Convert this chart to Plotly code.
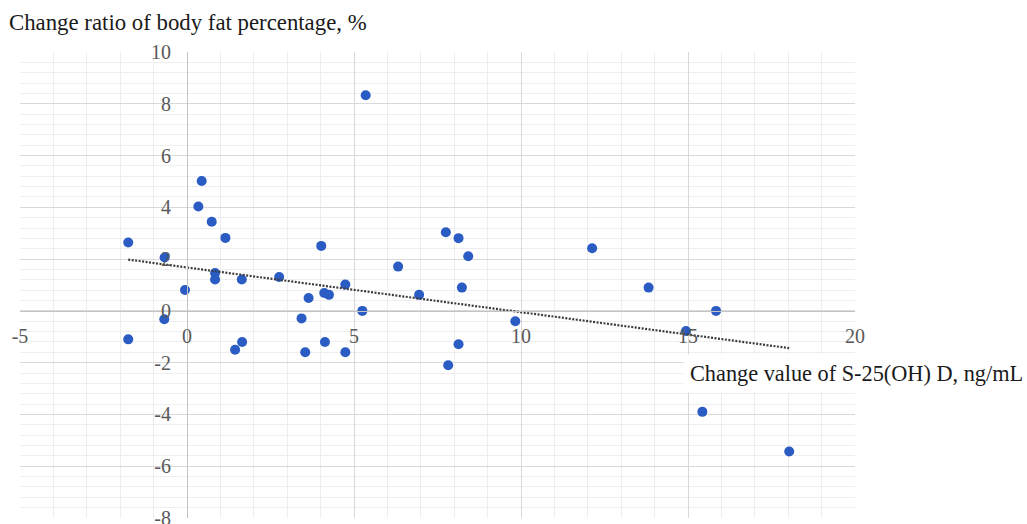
import numpy as np
import plotly.graph_objects as go

# Change value of serum 25(OH)D (ng/mL) and change ratio of body fat (%)
vitd_change = [
    -1.76, -0.67, -0.68, -1.76, -0.06, 0.44, 0.34, 0.74, 1.15, 0.84,
    0.84, 1.64, 2.76, 4.02, 3.64, 4.11, 4.25, 4.74, 5.25, 3.43,
    6.32, 1.65, 1.44, 3.54, 4.13, 4.74, 5.35, 6.95, 7.75, 8.13,
    8.42, 8.23, 9.83, 8.13, 12.13, 13.82, 15.84, 14.94, 7.82, 15.43,
    18.03,
]
fat_change = [
    2.64, 2.06, -0.32, -1.10, 0.81, 5.02, 4.03, 3.44, 2.82, 1.46,
    1.21, 1.21, 1.31, 2.51, 0.50, 0.69, 0.62, 1.02, 0.00, -0.29,
    1.71, -1.20, -1.50, -1.60, -1.20, -1.60, 8.33, 0.62, 3.04, 2.81,
    2.11, 0.90, -0.40, -1.29, 2.42, 0.90, 0.00, -0.78, -2.10, -3.90,
    -5.43,
]

x_range = [-5, 20]
y_range = [-8, 10]
x_tick_vals = [-5, 0, 5, 10, 15, 20]
x_tick_text = ["-5", "0", "5", "10", "15", "20"]
y_tick_vals = [-8, -6, -4, -2, 0, 2, 4, 6, 8, 10]
y_tick_text = ["-8", "-6", "-4", "-2", "0", "2", "4", "6", "8", "10"]

x_title = "Change value of S-25(OH) D, ng/mL"
y_title = "Change ratio of body fat percentage, %"

# Linear least-squares trendline over the span of the data
slope, intercept = np.polyfit(vitd_change, fat_change, 1)
fit_x = [min(vitd_change), max(vitd_change)]
fit_y = [intercept + slope * v for v in fit_x]

serif = "Times New Roman, Liberation Serif, serif"
W, H = 1027, 524
ml, mr, mt, mb = 20, 172, 52, 6
plot_w = W - ml - mr
plot_h = H - mt - mb

fig = go.Figure()
fig.add_trace(go.Scatter(
    x=vitd_change, y=fat_change, mode="markers",
    marker=dict(size=10, color="#2a5cc4", line=dict(width=0)),
    showlegend=False, hoverinfo="x+y",
))
fig.add_trace(go.Scatter(
    x=fit_x, y=fit_y, mode="lines",
    line=dict(color="#3c3c3c", width=2.2, dash="2px,1.5px"),
    showlegend=False, hoverinfo="skip",
))

# Axes cross at the origin
x_axis_pos = (0 - y_range[0]) / (y_range[1] - y_range[0])
y_axis_pos = (0 - x_range[0]) / (x_range[1] - x_range[0])

tick_font = dict(family=serif, size=20, color="#595959")

fig.update_layout(
    width=W, height=H,
    margin=dict(l=ml, r=mr, t=mt, b=mb, pad=0),
    paper_bgcolor="white", plot_bgcolor="white",
    xaxis=dict(
        range=x_range, tickmode="array", tickvals=x_tick_vals, ticktext=x_tick_text,
        showgrid=True, gridcolor="#d9d9d9", gridwidth=1,
        minor=dict(tickmode="linear", tick0=0, dtick=1, showgrid=True,
                   gridcolor="#eeeeee", gridwidth=1),
        showline=True, linecolor="#c4c4c4", linewidth=1.2,
        zeroline=False, ticks="", tickfont=tick_font,
        anchor="free", position=x_axis_pos, automargin=False,
        ticklabelstandoff=7, ticklabeloverflow="allow", fixedrange=True,
    ),
    yaxis=dict(
        range=y_range, tickmode="array", tickvals=y_tick_vals, ticktext=y_tick_text,
        showgrid=True, gridcolor="#d9d9d9", gridwidth=1,
        minor=dict(tickmode="linear", tick0=0, dtick=0.4, showgrid=True,
                   gridcolor="#eeeeee", gridwidth=1),
        showline=True, linecolor="#c4c4c4", linewidth=1.2,
        zeroline=False, ticks="", tickfont=tick_font,
        anchor="free", position=y_axis_pos, automargin=False,
        ticklabelstandoff=12, ticklabeloverflow="allow", fixedrange=True,
    ),
    annotations=[
        dict(
            text=y_title, xref="paper", yref="paper",
            x=(7 - ml) / plot_w, y=(H - mb - 22) / plot_h,
            xanchor="left", yanchor="middle", showarrow=False,
            font=dict(family=serif, size=22.8, color="#1a1a1a"),
        ),
        dict(
            text=x_title, xref="paper", yref="paper",
            x=(683 - ml) / plot_w, y=(H - mb - 373) / plot_h,
            xanchor="left", yanchor="middle", showarrow=False,
            bgcolor="white", borderpad=6,
            font=dict(family=serif, size=22.3, color="#1a1a1a"),
        ),
    ],
)

fig.write_html("out.html")
